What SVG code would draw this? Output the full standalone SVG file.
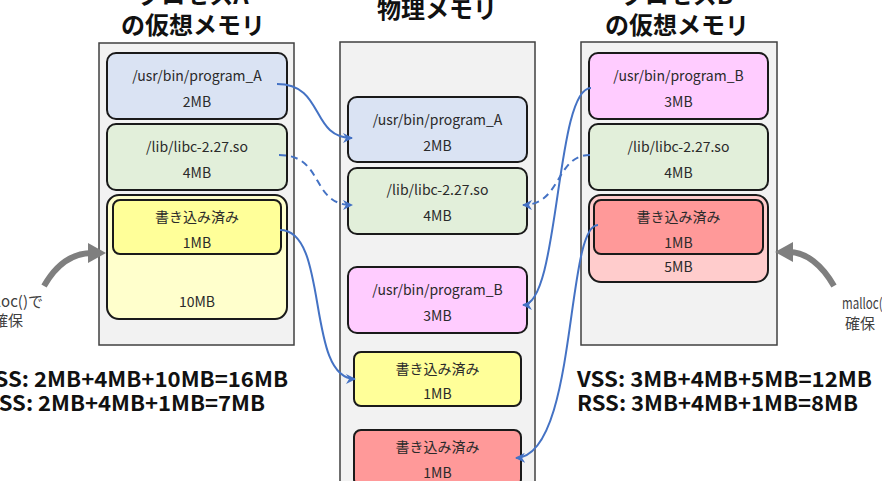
<svg xmlns="http://www.w3.org/2000/svg" width="882" height="481" viewBox="0 0 882 481">
<style>
.panel{fill:#f2f2f2;stroke:#404040;stroke-width:1.5}
.node{stroke:#1a1a1a;stroke-width:2}
.t{font-family:"Noto Sans CJK JP","Noto Sans",sans-serif;font-size:14px;fill:#2a2a2a;text-anchor:middle}
.title{font-family:"Noto Sans CJK JP","Noto Sans",sans-serif;font-size:24px;font-weight:700;fill:#111;text-anchor:middle}
.sum{font-family:"Noto Sans CJK JP","Liberation Sans",sans-serif;font-size:21px;font-weight:700;fill:#111}
.lbl{font-family:"Noto Sans CJK JP","Noto Sans",sans-serif;font-size:15px;fill:#404040}
.conn{fill:none;stroke:#4472c4;stroke-width:2;marker-end:url(#ah)}
.dash{stroke-dasharray:7 5}
.gray{fill:none;stroke:#7f7f7f;stroke-width:6;marker-end:url(#gh)}
</style>
<defs>
<marker id="ah" viewBox="0 0 10 10" refX="9" refY="5" markerWidth="10" markerHeight="10" markerUnits="userSpaceOnUse" orient="auto">
<path d="M0,0 L10,5 L0,10 L3,5 Z" fill="#4472c4"/>
</marker>
<marker id="gh" viewBox="0 0 18 20" refX="4" refY="10" markerWidth="18" markerHeight="20" markerUnits="userSpaceOnUse" orient="auto">
<path d="M0,0 L18,10 L0,20 Z" fill="#7f7f7f"/>
</marker>
</defs>
<rect width="882" height="481" fill="#ffffff"/>

<g id="titles">
<text class="title" x="193" y="4">プロセスA</text>
<text class="title" x="193" y="34">の仮想メモリ</text>
<text class="title" x="437" y="18">物理メモリ</text>
<text class="title" x="677" y="4">プロセスB</text>
<text class="title" x="677" y="34">の仮想メモリ</text>
</g>

<g id="panelA"><rect class="panel" x="99" y="43" width="195" height="302"/></g>
<g id="panelPhys"><rect class="panel" x="340" y="42" width="195" height="450"/></g>
<g id="panelB"><rect class="panel" x="581" y="42" width="196" height="303"/></g>

<g id="A_program">
<rect class="node" x="107" y="53" width="180" height="66" rx="9" fill="#dae3f3"/>
<text class="t" x="197" y="81">/usr/bin/program_A</text>
<text class="t" x="197" y="107">2MB</text>
</g>
<g id="A_libc">
<rect class="node" x="107" y="124" width="180" height="66" rx="9" fill="#e2efda"/>
<text class="t" x="197" y="152">/lib/libc-2.27.so</text>
<text class="t" x="197" y="178">4MB</text>
</g>
<g id="A_heap">
<rect class="node" x="107" y="195" width="180" height="124" rx="12" fill="#ffffcc"/>
<text class="t" x="197" y="307">10MB</text>
</g>
<g id="A_written">
<rect class="node" x="113" y="200" width="168" height="54" rx="7" fill="#ffff99"/>
<text class="t" x="197" y="222">書き込み済み</text>
<text class="t" x="197" y="248">1MB</text>
</g>

<g id="P_programA">
<rect class="node" x="348" y="97" width="179" height="65" rx="9" fill="#dae3f3"/>
<text class="t" x="437.5" y="125">/usr/bin/program_A</text>
<text class="t" x="437.5" y="151">2MB</text>
</g>
<g id="P_libc">
<rect class="node" x="348" y="168" width="179" height="66" rx="9" fill="#e2efda"/>
<text class="t" x="437.5" y="195">/lib/libc-2.27.so</text>
<text class="t" x="437.5" y="221">4MB</text>
</g>
<g id="P_programB">
<rect class="node" x="348" y="267" width="179" height="66" rx="9" fill="#ffccff"/>
<text class="t" x="437.5" y="295">/usr/bin/program_B</text>
<text class="t" x="437.5" y="321">3MB</text>
</g>
<g id="P_writtenA">
<rect class="node" x="354" y="352" width="167" height="54" rx="7" fill="#ffff99"/>
<text class="t" x="437.5" y="374">書き込み済み</text>
<text class="t" x="437.5" y="399">1MB</text>
</g>
<g id="P_writtenB">
<rect class="node" x="354" y="430" width="167" height="56" rx="7" fill="#ff9999"/>
<text class="t" x="437.5" y="452">書き込み済み</text>
<text class="t" x="437.5" y="478">1MB</text>
</g>

<g id="B_program">
<rect class="node" x="589" y="53" width="179" height="66" rx="9" fill="#ffccff"/>
<text class="t" x="678.5" y="81">/usr/bin/program_B</text>
<text class="t" x="678.5" y="107">3MB</text>
</g>
<g id="B_libc">
<rect class="node" x="589" y="124" width="179" height="66" rx="9" fill="#e2efda"/>
<text class="t" x="678.5" y="152">/lib/libc-2.27.so</text>
<text class="t" x="678.5" y="178">4MB</text>
</g>
<g id="B_heap">
<rect class="node" x="589" y="195" width="179" height="87" rx="12" fill="#ffcccc"/>
<text class="t" x="678.5" y="272">5MB</text>
</g>
<g id="B_written">
<rect class="node" x="594" y="200" width="169" height="54" rx="7" fill="#ff9999"/>
<text class="t" x="678.5" y="222">書き込み済み</text>
<text class="t" x="678.5" y="248">1MB</text>
</g>

<g id="connectors">
<path class="conn" d="M277,84 C325,84 310,138 352,138"/>
<path class="conn dash" d="M279,155 C325,155 310,205 352,205"/>
<path class="conn" d="M280,230 C330,230 305,379 355,379"/>
<path class="conn" d="M591,88 C555,88 560,305 523,305"/>
<path class="conn dash" d="M590,155 C555,155 562,205 523,205"/>
<path class="conn" d="M598,225 C565,225 578,456 516,458"/>
<path class="gray" d="M44,286 C56,265 72,253 92,253"/>
<path class="gray" d="M834,286 C822,265 806,252 789,252"/>
</g>

<g id="labels">
<text class="lbl" x="43" y="307" text-anchor="end">malloc()で</text>
<text class="lbl" x="23" y="326" text-anchor="end">確保</text>
<text class="lbl" x="842" y="309" textLength="56" lengthAdjust="spacingAndGlyphs">malloc()で</text>
<text class="lbl" x="845" y="329">確保</text>
</g>

<g id="sums">
<text class="sum" x="-19" y="387" textLength="307" lengthAdjust="spacingAndGlyphs">VSS: 2MB+4MB+10MB=16MB</text>
<text class="sum" x="-16" y="411" textLength="281" lengthAdjust="spacingAndGlyphs">RSS: 2MB+4MB+1MB=7MB</text>
<text class="sum" x="577" y="387" textLength="295" lengthAdjust="spacingAndGlyphs">VSS: 3MB+4MB+5MB=12MB</text>
<text class="sum" x="577" y="411" textLength="281" lengthAdjust="spacingAndGlyphs">RSS: 3MB+4MB+1MB=8MB</text>
</g>
</svg>
